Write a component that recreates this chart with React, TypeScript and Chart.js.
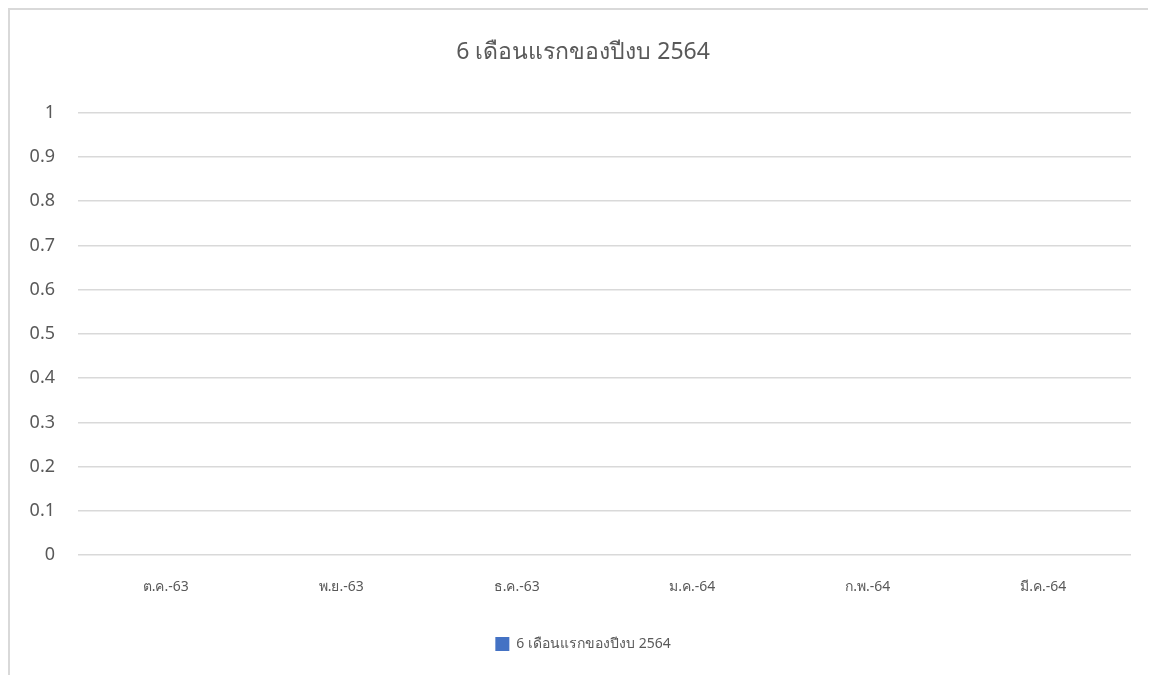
import React, { useEffect, useRef } from "react";
import { Chart, registerables } from "chart.js";

Chart.register(...registerables);

const categories = ["ต.ค.-63", "พ.ย.-63", "ธ.ค.-63", "ม.ค.-64", "ก.พ.-64", "มี.ค.-64"];
const seriesLabel = "6 เดือนแรกของปีงบ 2564";
const seriesValues = [0, 0, 0, 0, 0, 0];
const titleText = "6 เดือนแรกของปีงบ 2564";
const yMin = 0;
const yMax = 1;
const yStep = 0.1;

const FONT = "'Noto Sans', 'DejaVu Sans', sans-serif";
const TEXT = "#595959";
const GRID = "#d9d9d9";

export default function App() {
  const ref = useRef<HTMLCanvasElement | null>(null);

  useEffect(() => {
    document.documentElement.style.overflow = "hidden";
    document.body.style.overflow = "hidden";
    if (!ref.current) return;
    const chart = new Chart(ref.current, {
      type: "bar",
      data: {
        labels: categories,
        datasets: [
          {
            label: seriesLabel,
            data: seriesValues,
            backgroundColor: "#4472C4",
            borderWidth: 0,
          },
        ],
      },
      options: {
        animation: false,
        responsive: false,
        maintainAspectRatio: false,
        layout: { padding: { left: 0, right: 0, top: 0, bottom: 14 } },
        plugins: {
          title: {
            display: true,
            text: titleText,
            color: TEXT,
            font: { family: FONT, size: 23, weight: "normal" },
            padding: { top: 29, bottom: 46 },
          },
          legend: {
            display: true,
            position: "bottom",
            labels: {
              color: TEXT,
              font: { family: FONT, size: 14 },
              boxWidth: 14,
              boxHeight: 14,
              padding: 10,
            },
          },
          tooltip: { enabled: false },
        },
        scales: {
          x: {
            grid: { display: false, drawTicks: false },
            border: { display: false },
            ticks: {
              color: TEXT,
              font: { family: FONT, size: 14 },
              padding: 23,
              maxRotation: 0,
            },
            afterFit: (axis: any) => {
              axis.height += 9;
            },
          },
          y: {
            min: yMin,
            max: yMax,
            grid: { color: GRID, lineWidth: 1.5, drawTicks: false },
            border: { display: false },
            ticks: {
              stepSize: yStep,
              color: TEXT,
              font: { family: FONT, size: 18 },
              padding: 23,
              callback: (v: any) => String(Math.round(Number(v) * 10) / 10),
            },
            afterFit: (axis: any) => {
              axis.width = 68;
            },
          },
          yRight: {
            position: "right",
            display: true,
            grid: { display: false, drawTicks: false },
            border: { display: false },
            ticks: { display: false },
            afterFit: (axis: any) => {
              axis.width = 25;
            },
          },
        },
      },
    });
    return () => chart.destroy();
  }, []);

  return (
    <div
      style={{
        width: 1148,
        height: 667,
        borderTop: "2px solid #d9d9d9",
        borderLeft: "2px solid #d9d9d9",
        boxSizing: "border-box",
        background: "#fff",
      }}
    >
      <canvas ref={ref} width={1146} height={665} style={{ display: "block", width: 1146, height: 665 }} />
    </div>
  );
}
